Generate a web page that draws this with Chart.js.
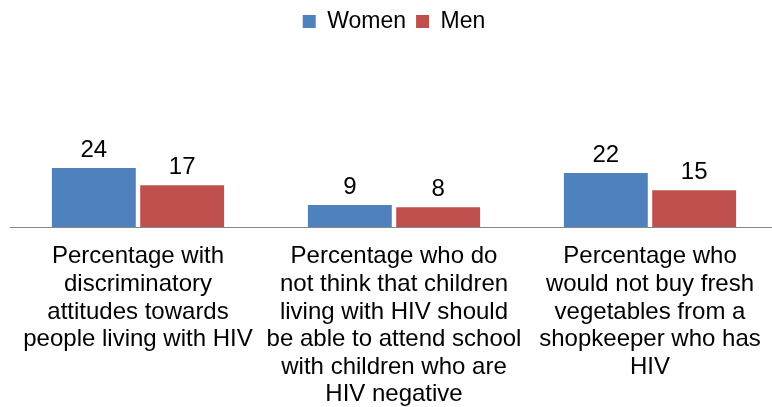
<!DOCTYPE html>
<html>
<head>
<meta charset="utf-8">
<script src="https://cdn.jsdelivr.net/npm/chart.js@4"></script>
<style>
  html, body { margin: 0; padding: 0; background: #fff; overflow: hidden; }
  #wrap { position: relative; width: 788px; height: 407px; }
</style>
</head>
<body>
<div id="wrap"><canvas id="c" width="788" height="407"></canvas></div>
<script>
const categories = [
  ["Percentage with", "discriminatory", "attitudes towards", "people living with HIV"],
  ["Percentage who do", "not think that children", "living with HIV should", "be able to attend school", "with children who are", "HIV negative"],
  ["Percentage who", "would not buy fresh", "vegetables from a", "shopkeeper who has", "HIV"]
];
const seriesNames = ["Women", "Men"];
const women = [24, 9, 22];
const men = [17, 8, 15];

const FONT = "'Liberation Sans', Arial, sans-serif";

const dataLabels = {
  id: 'dataLabels',
  afterDatasetsDraw(chart) {
    const ctx = chart.ctx;
    ctx.save();
    ctx.font = "24px " + FONT;
    ctx.fillStyle = "#000";
    ctx.textAlign = "center";
    ctx.textBaseline = "alphabetic";
    chart.data.datasets.forEach((ds, di) => {
      const meta = chart.getDatasetMeta(di);
      meta.data.forEach((bar, i) => {
        ctx.fillText(String(ds.data[i]), bar.x, bar.y - 11);
      });
    });
    ctx.restore();
  }
};

new Chart(document.getElementById('c'), {
  type: 'bar',
  data: {
    labels: categories,
    datasets: [
      { label: seriesNames[0], data: women, backgroundColor: '#4F81BD', borderWidth: 0 },
      { label: seriesNames[1], data: men, backgroundColor: '#C0504D', borderWidth: 0 }
    ]
  },
  options: {
    responsive: false,
    animation: false,
    layout: { padding: { left: 10, right: 10, top: 0, bottom: 0 } },
    categoryPercentage: 0.69,
    barPercentage: 0.95,
    plugins: {
      legend: {
        position: 'top',
        labels: {
          boxWidth: 13, boxHeight: 13, padding: 10,
          color: '#000',
          font: { family: FONT, size: 23 }
        }
      },
      tooltip: { enabled: false }
    },
    scales: {
      x: {
        grid: { display: false, drawTicks: false },
        border: { display: true, color: '#868686', width: 1 },
        ticks: {
          color: '#000', autoSkip: false, maxRotation: 0, minRotation: 0, padding: 16,
          font: { family: FONT, size: 24, lineHeight: 1.15 }
        },
        afterFit(scale) { scale.height = 180; }
      },
      y: {
        display: false,
        min: 0, max: 75
      }
    }
  },
  plugins: [dataLabels]
});
</script>
</body>
</html>
